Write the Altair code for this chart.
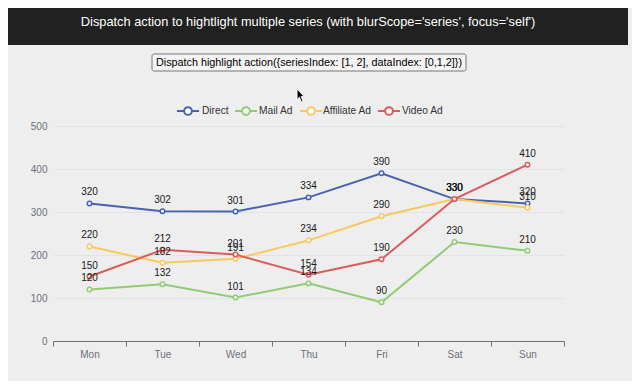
import altair as alt
import pandas as pd

days = ["Mon", "Tue", "Wed", "Thu", "Fri", "Sat", "Sun"]
series_names = ["Direct", "Mail Ad", "Affiliate Ad", "Video Ad"]
direct = [320, 302, 301, 334, 390, 330, 320]
mail_ad = [120, 132, 101, 134, 90, 230, 210]
affiliate_ad = [220, 182, 191, 234, 290, 330, 310]
video_ad = [150, 212, 201, 154, 190, 330, 410]
colors = ["#4762b1", "#91cc75", "#f8c95c", "#dc5b5b"]

title_text = "Dispatch action to hightlight multiple series (with blurScope='series', focus='self')"
button_text = "Dispatch highlight action({seriesIndex: [1, 2], dataIndex: [0,1,2]})"

values = [direct, mail_ad, affiliate_ad, video_ad]
rows = []
for si, (name, vals) in enumerate(zip(series_names, values)):
    for d, v in zip(days, vals):
        rows.append({"day": d, "series": name, "value": v, "order": si})
df = pd.DataFrame(rows)

FONT = "Liberation Sans"
W, H = 511, 215
FS = 10

x = alt.X("day:N", sort=days, scale=alt.Scale(domain=days, paddingInner=0, paddingOuter=0),
          axis=alt.Axis(title=None, tickBand="extent", domainColor="#6e7079", tickColor="#6e7079",
                        tickSize=5, labelPadding=3, labelColor="#6e7079", labelFontSize=FS,
                        labelFont=FONT, labelAngle=0, grid=False))
y = alt.Y("value:Q", scale=alt.Scale(domain=[0, 500], nice=False),
          axis=alt.Axis(title=None, values=[0, 100, 200, 300, 400, 500], domain=False, ticks=False,
                        tickSize=0, labelPadding=6, labelColor="#6e7079", labelFontSize=FS,
                        labelFont=FONT, gridColor="#e0e3ea", gridWidth=1))
color = alt.Color("series:N", scale=alt.Scale(domain=series_names, range=colors), legend=None)

base = alt.Chart(df)
layers = []
for name in series_names:
    sub = base.transform_filter(alt.datum.series == name)
    layers.append(sub.mark_line(strokeWidth=2).encode(x=x, y=y, color=color))
    layers.append(sub.mark_point(fill="white", filled=False, size=20, strokeWidth=1.5, opacity=1)
                  .encode(x=x, y=y, color=color))
for name in series_names:
    sub = base.transform_filter(alt.datum.series == name)
    layers.append(sub.mark_text(dy=-11, fontSize=FS, font=FONT, color="#1a1a1a")
                  .encode(x=x, y=y, text="value:Q"))

# header band and title
header = alt.Chart(pd.DataFrame({"t": [title_text]})).mark_rect(color="#212121").encode(
    x=alt.value(-60), x2=alt.value(575), y=alt.value(-130), y2=alt.value(-81))
title = alt.Chart(pd.DataFrame({"t": [title_text]})).mark_text(
    color="white", fontSize=12.8, font=FONT, align="center", baseline="middle").encode(
    x=alt.value(255), y=alt.value(-104), text="t:N")

# button
button = alt.Chart(pd.DataFrame({"t": [button_text]})).mark_rect(
    fill="#f4f4f4", stroke="#767676", strokeWidth=1, cornerRadius=2).encode(
    x=alt.value(99), x2=alt.value(413), y=alt.value(-72), y2=alt.value(-55))
button_label = alt.Chart(pd.DataFrame({"t": [button_text]})).mark_text(
    color="black", fontSize=10.8, font=FONT, align="center", baseline="middle").encode(
    x=alt.value(256), y=alt.value(-63.5), text="t:N")

# mouse cursor
cursor_path = "M-0.6,-1 L-0.6,0.6 L-0.25,0.25 L0.05,0.95 L0.3,0.85 L0,0.15 L0.45,0.15 Z"
cursor = alt.Chart(pd.DataFrame({"t": ["cursor"]})).mark_point(
    shape=cursor_path, size=169, filled=True, fill="black", stroke="white", strokeWidth=0.8,
    opacity=1).encode(x=alt.value(248), y=alt.value(-30.5))

# legend
leg_icon_x = [135, 193, 258, 336]
leg_text_x = [149, 206, 270, 349]
leg_y = -15
legend_layers = []
for name, c, ix, tx in zip(series_names, colors, leg_icon_x, leg_text_x):
    ldf = pd.DataFrame({"series": [name]})
    legend_layers.append(alt.Chart(ldf).mark_rule(color=c, strokeWidth=2).encode(
        x=alt.value(ix - 11), x2=alt.value(ix + 11), y=alt.value(leg_y)))
    legend_layers.append(alt.Chart(ldf).mark_point(fill="white", stroke=c, filled=False, size=60,
                                                   strokeWidth=2, opacity=1).encode(
        x=alt.value(ix), y=alt.value(leg_y)))
    legend_layers.append(alt.Chart(ldf).mark_text(color="#333333", fontSize=10.2, font=FONT,
                                                  align="left", baseline="middle").encode(
        x=alt.value(tx), y=alt.value(leg_y), text="series:N"))

chart = alt.layer(header, title, button, button_label, cursor, *legend_layers, *layers).properties(
    width=W, height=H, background="#eeeeee",
    padding={"left": 45, "top": 118, "right": 68, "bottom": 40},
    autosize=alt.AutoSizeParams(type="none"),
).configure_view(stroke=None)

chart.save("out.html", embed_options={"renderer": "svg", "actions": False})
